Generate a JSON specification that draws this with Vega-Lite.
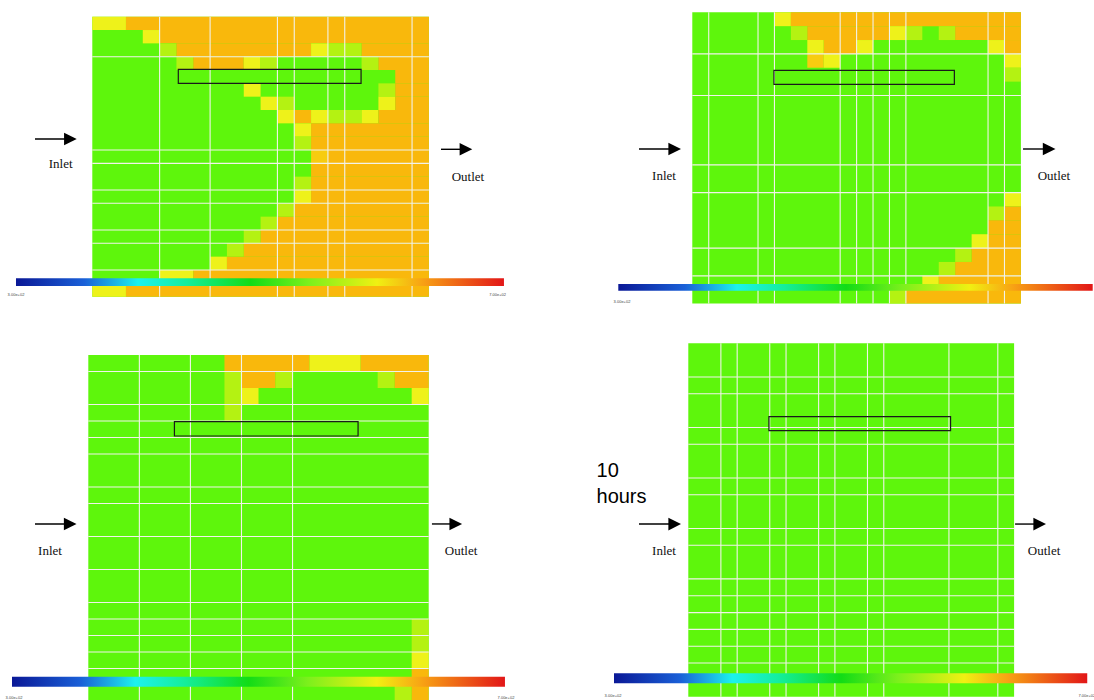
{
"$schema":"https://vega.github.io/schema/vega-lite/v6.json",
"padding":0,
"background":"white",
"config":{"view":{"stroke":null}},
"datasets":{
"cells":[
{"p":1,"r0":0,"r1":21,"c0":0,"c1":20,"v":"G"},
{"p":1,"r0":0,"r1":1,"c0":0,"c1":2,"v":"Y"},{"p":1,"r0":0,"r1":1,"c0":2,"c1":20,"v":"O"},
{"p":1,"r0":1,"r1":2,"c0":3,"c1":4,"v":"Y"},{"p":1,"r0":1,"r1":2,"c0":4,"c1":20,"v":"O"},
{"p":1,"r0":2,"r1":3,"c0":4,"c1":5,"v":"YG"},{"p":1,"r0":2,"r1":3,"c0":5,"c1":13,"v":"O"},{"p":1,"r0":2,"r1":3,"c0":13,"c1":14,"v":"Y"},{"p":1,"r0":2,"r1":3,"c0":14,"c1":16,"v":"YG"},{"p":1,"r0":2,"r1":3,"c0":16,"c1":20,"v":"O"},
{"p":1,"r0":3,"r1":4,"c0":5,"c1":6,"v":"YG"},{"p":1,"r0":3,"r1":4,"c0":6,"c1":9,"v":"O"},{"p":1,"r0":3,"r1":4,"c0":9,"c1":10,"v":"Y"},{"p":1,"r0":3,"r1":4,"c0":10,"c1":11,"v":"YG"},{"p":1,"r0":3,"r1":4,"c0":16,"c1":17,"v":"YG"},{"p":1,"r0":3,"r1":4,"c0":17,"c1":20,"v":"O"},
{"p":1,"r0":4,"r1":5,"c0":18,"c1":20,"v":"O"},
{"p":1,"r0":5,"r1":6,"c0":9,"c1":10,"v":"Y"},{"p":1,"r0":5,"r1":6,"c0":17,"c1":18,"v":"YG"},{"p":1,"r0":5,"r1":6,"c0":18,"c1":20,"v":"O"},
{"p":1,"r0":6,"r1":7,"c0":10,"c1":11,"v":"Y"},{"p":1,"r0":6,"r1":7,"c0":11,"c1":12,"v":"YG"},{"p":1,"r0":6,"r1":7,"c0":17,"c1":18,"v":"Y"},{"p":1,"r0":6,"r1":7,"c0":18,"c1":20,"v":"O"},
{"p":1,"r0":7,"r1":8,"c0":11,"c1":12,"v":"Y"},{"p":1,"r0":7,"r1":8,"c0":12,"c1":13,"v":"O"},{"p":1,"r0":7,"r1":8,"c0":13,"c1":14,"v":"Y"},{"p":1,"r0":7,"r1":8,"c0":14,"c1":16,"v":"YG"},{"p":1,"r0":7,"r1":8,"c0":16,"c1":17,"v":"Y"},{"p":1,"r0":7,"r1":8,"c0":17,"c1":20,"v":"O"},
{"p":1,"r0":8,"r1":9,"c0":12,"c1":13,"v":"Y"},{"p":1,"r0":8,"r1":9,"c0":13,"c1":20,"v":"O"},
{"p":1,"r0":9,"r1":10,"c0":12,"c1":13,"v":"YG"},{"p":1,"r0":9,"r1":10,"c0":13,"c1":20,"v":"O"},
{"p":1,"r0":10,"r1":11,"c0":13,"c1":14,"v":"LO"},{"p":1,"r0":10,"r1":11,"c0":14,"c1":20,"v":"O"},
{"p":1,"r0":11,"r1":12,"c0":13,"c1":20,"v":"O"},
{"p":1,"r0":12,"r1":13,"c0":12,"c1":13,"v":"YG"},{"p":1,"r0":12,"r1":13,"c0":13,"c1":20,"v":"O"},
{"p":1,"r0":13,"r1":14,"c0":12,"c1":13,"v":"Y"},{"p":1,"r0":13,"r1":14,"c0":13,"c1":20,"v":"O"},
{"p":1,"r0":14,"r1":15,"c0":11,"c1":12,"v":"YG"},{"p":1,"r0":14,"r1":15,"c0":12,"c1":20,"v":"O"},
{"p":1,"r0":15,"r1":16,"c0":10,"c1":11,"v":"YG"},{"p":1,"r0":15,"r1":16,"c0":11,"c1":20,"v":"O"},
{"p":1,"r0":16,"r1":17,"c0":9,"c1":10,"v":"YG"},{"p":1,"r0":16,"r1":17,"c0":10,"c1":20,"v":"O"},
{"p":1,"r0":17,"r1":18,"c0":8,"c1":9,"v":"YG"},{"p":1,"r0":17,"r1":18,"c0":9,"c1":20,"v":"O"},
{"p":1,"r0":18,"r1":19,"c0":7,"c1":8,"v":"Y"},{"p":1,"r0":18,"r1":19,"c0":8,"c1":20,"v":"O"},
{"p":1,"r0":19,"r1":20,"c0":4,"c1":6,"v":"Y"},{"p":1,"r0":19,"r1":20,"c0":6,"c1":20,"v":"O"},
{"p":1,"r0":20,"r1":21,"c0":0,"c1":2,"v":"Y"},{"p":1,"r0":20,"r1":21,"c0":2,"c1":20,"v":"O"},
{"p":2,"r0":0,"r1":21,"c0":0,"c1":20,"v":"G"},
{"p":2,"r0":0,"r1":1,"c0":5,"c1":6,"v":"Y"},{"p":2,"r0":0,"r1":1,"c0":6,"c1":20,"v":"O"},
{"p":2,"r0":1,"r1":2,"c0":6,"c1":7,"v":"YG"},{"p":2,"r0":1,"r1":2,"c0":7,"c1":12,"v":"O"},{"p":2,"r0":1,"r1":2,"c0":12,"c1":13,"v":"Y"},{"p":2,"r0":1,"r1":2,"c0":13,"c1":14,"v":"YG"},{"p":2,"r0":1,"r1":2,"c0":15,"c1":16,"v":"YG"},{"p":2,"r0":1,"r1":2,"c0":16,"c1":20,"v":"O"},
{"p":2,"r0":2,"r1":3,"c0":7,"c1":8,"v":"Y"},{"p":2,"r0":2,"r1":3,"c0":8,"c1":10,"v":"O"},{"p":2,"r0":2,"r1":3,"c0":10,"c1":11,"v":"Y"},{"p":2,"r0":2,"r1":3,"c0":18,"c1":19,"v":"Y"},{"p":2,"r0":2,"r1":3,"c0":19,"c1":20,"v":"O"},
{"p":2,"r0":3,"r1":4,"c0":7,"c1":8,"v":"LO"},{"p":2,"r0":3,"r1":4,"c0":8,"c1":9,"v":"Y"},{"p":2,"r0":3,"r1":4,"c0":19,"c1":20,"v":"Y"},
{"p":2,"r0":4,"r1":5,"c0":19,"c1":20,"v":"YG"},
{"p":2,"r0":13,"r1":14,"c0":19,"c1":20,"v":"Y"},
{"p":2,"r0":14,"r1":15,"c0":18,"c1":19,"v":"YG"},{"p":2,"r0":14,"r1":15,"c0":19,"c1":20,"v":"O"},
{"p":2,"r0":15,"r1":16,"c0":18,"c1":20,"v":"O"},
{"p":2,"r0":16,"r1":17,"c0":17,"c1":18,"v":"Y"},{"p":2,"r0":16,"r1":17,"c0":18,"c1":20,"v":"O"},
{"p":2,"r0":17,"r1":18,"c0":16,"c1":17,"v":"YG"},{"p":2,"r0":17,"r1":18,"c0":17,"c1":20,"v":"O"},
{"p":2,"r0":18,"r1":19,"c0":15,"c1":16,"v":"YG"},{"p":2,"r0":18,"r1":19,"c0":16,"c1":20,"v":"O"},
{"p":2,"r0":19,"r1":20,"c0":14,"c1":15,"v":"Y"},{"p":2,"r0":19,"r1":20,"c0":15,"c1":20,"v":"O"},
{"p":2,"r0":20,"r1":21,"c0":12,"c1":13,"v":"YG"},{"p":2,"r0":20,"r1":21,"c0":13,"c1":20,"v":"O"},
{"p":3,"r0":0,"r1":21,"c0":0,"c1":20,"v":"G"},
{"p":3,"r0":0,"r1":1,"c0":8,"c1":13,"v":"O"},{"p":3,"r0":0,"r1":1,"c0":13,"c1":16,"v":"Y"},{"p":3,"r0":0,"r1":1,"c0":16,"c1":20,"v":"O"},
{"p":3,"r0":1,"r1":2,"c0":8,"c1":9,"v":"YG"},{"p":3,"r0":1,"r1":2,"c0":9,"c1":11,"v":"O"},{"p":3,"r0":1,"r1":2,"c0":11,"c1":12,"v":"YG"},{"p":3,"r0":1,"r1":2,"c0":17,"c1":18,"v":"YG"},{"p":3,"r0":1,"r1":2,"c0":18,"c1":20,"v":"O"},
{"p":3,"r0":2,"r1":3,"c0":8,"c1":9,"v":"YG"},{"p":3,"r0":2,"r1":3,"c0":9,"c1":10,"v":"Y"},{"p":3,"r0":2,"r1":3,"c0":19,"c1":20,"v":"Y"},
{"p":3,"r0":3,"r1":4,"c0":8,"c1":9,"v":"YG"},
{"p":3,"r0":16,"r1":17,"c0":19,"c1":20,"v":"YG"},
{"p":3,"r0":17,"r1":18,"c0":19,"c1":20,"v":"YG"},
{"p":3,"r0":18,"r1":19,"c0":19,"c1":20,"v":"Y"},
{"p":3,"r0":19,"r1":20,"c0":19,"c1":20,"v":"O"},
{"p":3,"r0":20,"r1":21,"c0":18,"c1":19,"v":"YG"},{"p":3,"r0":20,"r1":21,"c0":19,"c1":20,"v":"O"},
{"p":4,"r0":0,"r1":21,"c0":0,"c1":20,"v":"G"}
],
"vl":[
{"p":1,"c":4},{"p":1,"c":7},{"p":1,"c":11},{"p":1,"c":12},{"p":1,"c":14},{"p":1,"c":15},{"p":1,"c":19},
{"p":2,"c":1},{"p":2,"c":4},{"p":2,"c":5},{"p":2,"c":9},{"p":2,"c":10},{"p":2,"c":11},{"p":2,"c":12},{"p":2,"c":13},{"p":2,"c":18},{"p":2,"c":19},
{"p":3,"c":3},{"p":3,"c":6},{"p":3,"c":9},{"p":3,"c":12},
{"p":4,"c":2},{"p":4,"c":3},{"p":4,"c":5},{"p":4,"c":6},{"p":4,"c":8},{"p":4,"c":9},{"p":4,"c":11},{"p":4,"c":12},{"p":4,"c":16},{"p":4,"c":19}
],
"hl":[
{"p":1,"r":3},{"p":1,"r":10},{"p":1,"r":11},{"p":1,"r":13},{"p":1,"r":14},{"p":1,"r":16},{"p":1,"r":17},{"p":1,"r":19},
{"p":2,"r":3},{"p":2,"r":6},{"p":2,"r":11},{"p":2,"r":13},{"p":2,"r":17},{"p":2,"r":19},
{"p":3,"r":1},{"p":3,"r":3},{"p":3,"r":4},{"p":3,"r":5},{"p":3,"r":6},{"p":3,"r":8},{"p":3,"r":9},{"p":3,"r":11},{"p":3,"r":13},{"p":3,"r":15},{"p":3,"r":16},{"p":3,"r":17},{"p":3,"r":18},{"p":3,"r":19},
{"p":4,"r":2},{"p":4,"r":3},{"p":4,"r":5},{"p":4,"r":6},{"p":4,"r":8},{"p":4,"r":9},{"p":4,"r":11},{"p":4,"r":12},{"p":4,"r":14},{"p":4,"r":15},{"p":4,"r":16},{"p":4,"r":17},{"p":4,"r":18},{"p":4,"r":19}
],
"box":[
{"p":1,"x0":5.11,"x1":15.97,"y0":3.95,"y1":5.0},
{"p":2,"x0":4.97,"x1":15.95,"y0":4.18,"y1":5.19},
{"p":3,"x0":5.06,"x1":15.85,"y0":4.04,"y1":4.91},
{"p":4,"x0":4.95,"x1":16.1,"y0":4.36,"y1":5.19}
],
"cbar":[
{"p":1,"x0":-4.534,"x1":24.46,"y0":19.625,"y1":20.203},
{"p":2,"x0":-4.504,"x1":24.37,"y0":19.59,"y1":20.07},
{"p":3,"x0":-4.483,"x1":24.48,"y0":19.5,"y1":20.1},
{"p":4,"x0":-4.561,"x1":24.49,"y0":19.61,"y1":20.2}
],
"arrows":[
{"p":1,"xs":-3.405,"xe":-1.301,"y":9.175},{"p":1,"xs":20.72,"xe":22.2,"y":9.947},
{"p":2,"xs":-3.244,"xe":-1.071,"y":9.856},{"p":2,"xs":20.13,"xe":21.72,"y":9.856},
{"p":3,"xs":-3.132,"xe":-1.063,"y":10.24},{"p":3,"xs":20.19,"xe":21.59,"y":10.24},
{"p":4,"xs":-3.026,"xe":-0.835,"y":10.74},{"p":4,"xs":20.06,"xe":21.57,"y":10.74}
],
"labels":[
{"p":1,"x":-1.878,"y":11.073,"t":"Inlet"},{"p":1,"x":22.32,"y":12.03,"t":"Outlet"},
{"p":2,"x":-1.722,"y":11.8,"t":"Inlet"},{"p":2,"x":22.01,"y":11.8,"t":"Outlet"},
{"p":3,"x":-2.25,"y":11.88,"t":"Inlet"},{"p":3,"x":21.9,"y":11.88,"t":"Outlet"},
{"p":4,"x":-1.492,"y":12.34,"t":"Inlet"},{"p":4,"x":21.84,"y":12.34,"t":"Outlet"}
],
"big":[
{"p":4,"x":-5.635,"y":7.962,"t":"10"},{"p":4,"x":-5.635,"y":9.471,"t":"hours"}
],
"cblab":[
{"p":1,"x":-4.534,"y":20.88,"t":"3.00e+02"},{"p":1,"x":24.08,"y":20.88,"t":"7.00e+02"},
{"p":2,"x":-4.279,"y":20.89,"t":"3.00e+02"},
{"p":3,"x":-4.366,"y":20.79,"t":"3.00e+02"},{"p":3,"x":24.54,"y":20.79,"t":"7.00e+02"},
{"p":4,"x":-4.622,"y":20.96,"t":"3.00e+02"},{"p":4,"x":24.47,"y":20.96,"t":"7.00e+02"}
]
},
"spacing":0,
"vconcat":[
{"spacing":0,"hconcat":[
{"width":560,"height":320,"layer":[
{"data":{"name":"cells"},"transform":[{"filter":"datum.p==1"}],"mark":{"type":"rect","clip":true},
 "encoding":{"x":{"field":"c0","type":"quantitative","scale":{"domain":[-5.484,27.79],"nice":false,"zero":false},"axis":null},"x2":{"field":"c1"},
 "y":{"field":"r0","type":"quantitative","scale":{"domain":[-1.253,22.753],"nice":false,"zero":false,"reverse":true},"axis":null},"y2":{"field":"r1"},
 "color":{"field":"v","type":"nominal","scale":{"domain":["G","YG","Y","LO","O"],"range":["#5ef60c","#b4f212","#eef21a","#f7cc10","#f9b80c"]},"legend":null}}},
{"data":{"name":"vl"},"transform":[{"filter":"datum.p==1"}],"mark":{"type":"rule","clip":true,"color":"#f2f2ea","strokeWidth":1.1},
 "encoding":{"x":{"field":"c","type":"quantitative","scale":{"domain":[-5.484,27.79],"nice":false,"zero":false},"axis":null},
 "y":{"datum":0,"type":"quantitative","scale":{"domain":[-1.253,22.753],"nice":false,"zero":false,"reverse":true},"axis":null},"y2":{"datum":21}}},
{"data":{"name":"hl"},"transform":[{"filter":"datum.p==1"}],"mark":{"type":"rule","clip":true,"color":"#f2f2ea","strokeWidth":1.1},
 "encoding":{"y":{"field":"r","type":"quantitative","scale":{"domain":[-1.253,22.753],"nice":false,"zero":false,"reverse":true},"axis":null},
 "x":{"datum":0,"type":"quantitative","scale":{"domain":[-5.484,27.79],"nice":false,"zero":false},"axis":null},"x2":{"datum":20}}},
{"data":{"name":"box"},"transform":[{"filter":"datum.p==1"}],"mark":{"type":"rect","fillOpacity":0,"stroke":"#1a1a1a","strokeWidth":1.2,"clip":true},
 "encoding":{"x":{"field":"x0","type":"quantitative","scale":{"domain":[-5.484,27.79],"nice":false,"zero":false},"axis":null},"x2":{"field":"x1"},
 "y":{"field":"y0","type":"quantitative","scale":{"domain":[-1.253,22.753],"nice":false,"zero":false,"reverse":true},"axis":null},"y2":{"field":"y1"}}},
{"data":{"name":"cbar"},"transform":[{"filter":"datum.p==1"}],"mark":{"type":"rect","clip":true,"fill":{"gradient":"linear","x1":0,"y1":0,"x2":1,"y2":0,"stops":[{"offset":0,"color":"#0a1896"},{"offset":0.14,"color":"#1a60d8"},{"offset":0.25,"color":"#1cf2ee"},{"offset":0.35,"color":"#14ee9c"},{"offset":0.48,"color":"#12dc16"},{"offset":0.6,"color":"#7cf01c"},{"offset":0.74,"color":"#f0f012"},{"offset":0.83,"color":"#f8a414"},{"offset":1,"color":"#e21618"}]}},
 "encoding":{"x":{"field":"x0","type":"quantitative","scale":{"domain":[-5.484,27.79],"nice":false,"zero":false},"axis":null},"x2":{"field":"x1"},
 "y":{"field":"y0","type":"quantitative","scale":{"domain":[-1.253,22.753],"nice":false,"zero":false,"reverse":true},"axis":null},"y2":{"field":"y1"}}},
{"data":{"name":"arrows"},"transform":[{"filter":"datum.p==1"}],"mark":{"type":"rule","color":"#000","strokeWidth":1.4,"clip":true},
 "encoding":{"x":{"field":"xs","type":"quantitative","scale":{"domain":[-5.484,27.79],"nice":false,"zero":false},"axis":null},"x2":{"field":"xe"},
 "y":{"field":"y","type":"quantitative","scale":{"domain":[-1.253,22.753],"nice":false,"zero":false,"reverse":true},"axis":null}}},
{"data":{"name":"arrows"},"transform":[{"filter":"datum.p==1"}],"mark":{"type":"point","shape":"M-1,-1L1,0L-1,1Z","filled":true,"size":160,"color":"#000","opacity":1,"clip":true},
 "encoding":{"x":{"field":"xe","type":"quantitative","scale":{"domain":[-5.484,27.79],"nice":false,"zero":false},"axis":null},
 "y":{"field":"y","type":"quantitative","scale":{"domain":[-1.253,22.753],"nice":false,"zero":false,"reverse":true},"axis":null}}},
{"data":{"name":"labels"},"transform":[{"filter":"datum.p==1"}],"mark":{"type":"text","font":"Liberation Serif","fontSize":13,"color":"#111","baseline":"middle","align":"center"},
 "encoding":{"x":{"field":"x","type":"quantitative","scale":{"domain":[-5.484,27.79],"nice":false,"zero":false},"axis":null},
 "y":{"field":"y","type":"quantitative","scale":{"domain":[-1.253,22.753],"nice":false,"zero":false,"reverse":true},"axis":null},"text":{"field":"t"}}},
{"data":{"name":"cblab"},"transform":[{"filter":"datum.p==1"}],"mark":{"type":"text","font":"Liberation Sans","fontSize":4,"color":"#444","baseline":"middle","align":"center"},
 "encoding":{"x":{"field":"x","type":"quantitative","scale":{"domain":[-5.484,27.79],"nice":false,"zero":false},"axis":null},
 "y":{"field":"y","type":"quantitative","scale":{"domain":[-1.253,22.753],"nice":false,"zero":false,"reverse":true},"axis":null},"text":{"field":"t"}}}
]},
{"width":534,"height":320,"layer":[
{"data":{"name":"cells"},"transform":[{"filter":"datum.p==2"}],"mark":{"type":"rect","clip":true},
 "encoding":{"x":{"field":"c0","type":"quantitative","scale":{"domain":[-8.052,24.449],"nice":false,"zero":false},"axis":null},"x2":{"field":"c1"},
 "y":{"field":"r0","type":"quantitative","scale":{"domain":[-0.887,22.185],"nice":false,"zero":false,"reverse":true},"axis":null},"y2":{"field":"r1"},
 "color":{"field":"v","type":"nominal","scale":{"domain":["G","YG","Y","LO","O"],"range":["#5ef60c","#b4f212","#eef21a","#f7cc10","#f9b80c"]},"legend":null}}},
{"data":{"name":"vl"},"transform":[{"filter":"datum.p==2"}],"mark":{"type":"rule","clip":true,"color":"#f2f2ea","strokeWidth":1.1},
 "encoding":{"x":{"field":"c","type":"quantitative","scale":{"domain":[-8.052,24.449],"nice":false,"zero":false},"axis":null},
 "y":{"datum":0,"type":"quantitative","scale":{"domain":[-0.887,22.185],"nice":false,"zero":false,"reverse":true},"axis":null},"y2":{"datum":21}}},
{"data":{"name":"hl"},"transform":[{"filter":"datum.p==2"}],"mark":{"type":"rule","clip":true,"color":"#f2f2ea","strokeWidth":1.1},
 "encoding":{"y":{"field":"r","type":"quantitative","scale":{"domain":[-0.887,22.185],"nice":false,"zero":false,"reverse":true},"axis":null},
 "x":{"datum":0,"type":"quantitative","scale":{"domain":[-8.052,24.449],"nice":false,"zero":false},"axis":null},"x2":{"datum":20}}},
{"data":{"name":"box"},"transform":[{"filter":"datum.p==2"}],"mark":{"type":"rect","fillOpacity":0,"stroke":"#1a1a1a","strokeWidth":1.2,"clip":true},
 "encoding":{"x":{"field":"x0","type":"quantitative","scale":{"domain":[-8.052,24.449],"nice":false,"zero":false},"axis":null},"x2":{"field":"x1"},
 "y":{"field":"y0","type":"quantitative","scale":{"domain":[-0.887,22.185],"nice":false,"zero":false,"reverse":true},"axis":null},"y2":{"field":"y1"}}},
{"data":{"name":"cbar"},"transform":[{"filter":"datum.p==2"}],"mark":{"type":"rect","clip":true,"fill":{"gradient":"linear","x1":0,"y1":0,"x2":1,"y2":0,"stops":[{"offset":0,"color":"#0a1896"},{"offset":0.14,"color":"#1a60d8"},{"offset":0.25,"color":"#1cf2ee"},{"offset":0.35,"color":"#14ee9c"},{"offset":0.48,"color":"#12dc16"},{"offset":0.6,"color":"#7cf01c"},{"offset":0.74,"color":"#f0f012"},{"offset":0.83,"color":"#f8a414"},{"offset":1,"color":"#e21618"}]}},
 "encoding":{"x":{"field":"x0","type":"quantitative","scale":{"domain":[-8.052,24.449],"nice":false,"zero":false},"axis":null},"x2":{"field":"x1"},
 "y":{"field":"y0","type":"quantitative","scale":{"domain":[-0.887,22.185],"nice":false,"zero":false,"reverse":true},"axis":null},"y2":{"field":"y1"}}},
{"data":{"name":"arrows"},"transform":[{"filter":"datum.p==2"}],"mark":{"type":"rule","color":"#000","strokeWidth":1.4,"clip":true},
 "encoding":{"x":{"field":"xs","type":"quantitative","scale":{"domain":[-8.052,24.449],"nice":false,"zero":false},"axis":null},"x2":{"field":"xe"},
 "y":{"field":"y","type":"quantitative","scale":{"domain":[-0.887,22.185],"nice":false,"zero":false,"reverse":true},"axis":null}}},
{"data":{"name":"arrows"},"transform":[{"filter":"datum.p==2"}],"mark":{"type":"point","shape":"M-1,-1L1,0L-1,1Z","filled":true,"size":160,"color":"#000","opacity":1,"clip":true},
 "encoding":{"x":{"field":"xe","type":"quantitative","scale":{"domain":[-8.052,24.449],"nice":false,"zero":false},"axis":null},
 "y":{"field":"y","type":"quantitative","scale":{"domain":[-0.887,22.185],"nice":false,"zero":false,"reverse":true},"axis":null}}},
{"data":{"name":"labels"},"transform":[{"filter":"datum.p==2"}],"mark":{"type":"text","font":"Liberation Serif","fontSize":13,"color":"#111","baseline":"middle","align":"center"},
 "encoding":{"x":{"field":"x","type":"quantitative","scale":{"domain":[-8.052,24.449],"nice":false,"zero":false},"axis":null},
 "y":{"field":"y","type":"quantitative","scale":{"domain":[-0.887,22.185],"nice":false,"zero":false,"reverse":true},"axis":null},"text":{"field":"t"}}},
{"data":{"name":"cblab"},"transform":[{"filter":"datum.p==2"}],"mark":{"type":"text","font":"Liberation Sans","fontSize":4,"color":"#444","baseline":"middle","align":"center"},
 "encoding":{"x":{"field":"x","type":"quantitative","scale":{"domain":[-8.052,24.449],"nice":false,"zero":false},"axis":null},
 "y":{"field":"y","type":"quantitative","scale":{"domain":[-0.887,22.185],"nice":false,"zero":false,"reverse":true},"axis":null},"text":{"field":"t"}}}
]}
]},
{"spacing":0,"hconcat":[
{"width":560,"height":380,"layer":[
{"data":{"name":"cells"},"transform":[{"filter":"datum.p==3"}],"mark":{"type":"rect","clip":true},
 "encoding":{"x":{"field":"c0","type":"quantitative","scale":{"domain":[-5.188,27.714],"nice":false,"zero":false},"axis":null},"x2":{"field":"c1"},
 "y":{"field":"r0","type":"quantitative","scale":{"domain":[-2.121,20.909],"nice":false,"zero":false,"reverse":true},"axis":null},"y2":{"field":"r1"},
 "color":{"field":"v","type":"nominal","scale":{"domain":["G","YG","Y","LO","O"],"range":["#5ef60c","#b4f212","#eef21a","#f7cc10","#f9b80c"]},"legend":null}}},
{"data":{"name":"vl"},"transform":[{"filter":"datum.p==3"}],"mark":{"type":"rule","clip":true,"color":"#f2f2ea","strokeWidth":1.1},
 "encoding":{"x":{"field":"c","type":"quantitative","scale":{"domain":[-5.188,27.714],"nice":false,"zero":false},"axis":null},
 "y":{"datum":0,"type":"quantitative","scale":{"domain":[-2.121,20.909],"nice":false,"zero":false,"reverse":true},"axis":null},"y2":{"datum":21}}},
{"data":{"name":"hl"},"transform":[{"filter":"datum.p==3"}],"mark":{"type":"rule","clip":true,"color":"#f2f2ea","strokeWidth":1.1},
 "encoding":{"y":{"field":"r","type":"quantitative","scale":{"domain":[-2.121,20.909],"nice":false,"zero":false,"reverse":true},"axis":null},
 "x":{"datum":0,"type":"quantitative","scale":{"domain":[-5.188,27.714],"nice":false,"zero":false},"axis":null},"x2":{"datum":20}}},
{"data":{"name":"box"},"transform":[{"filter":"datum.p==3"}],"mark":{"type":"rect","fillOpacity":0,"stroke":"#1a1a1a","strokeWidth":1.2,"clip":true},
 "encoding":{"x":{"field":"x0","type":"quantitative","scale":{"domain":[-5.188,27.714],"nice":false,"zero":false},"axis":null},"x2":{"field":"x1"},
 "y":{"field":"y0","type":"quantitative","scale":{"domain":[-2.121,20.909],"nice":false,"zero":false,"reverse":true},"axis":null},"y2":{"field":"y1"}}},
{"data":{"name":"cbar"},"transform":[{"filter":"datum.p==3"}],"mark":{"type":"rect","clip":true,"fill":{"gradient":"linear","x1":0,"y1":0,"x2":1,"y2":0,"stops":[{"offset":0,"color":"#0a1896"},{"offset":0.14,"color":"#1a60d8"},{"offset":0.25,"color":"#1cf2ee"},{"offset":0.35,"color":"#14ee9c"},{"offset":0.48,"color":"#12dc16"},{"offset":0.6,"color":"#7cf01c"},{"offset":0.74,"color":"#f0f012"},{"offset":0.83,"color":"#f8a414"},{"offset":1,"color":"#e21618"}]}},
 "encoding":{"x":{"field":"x0","type":"quantitative","scale":{"domain":[-5.188,27.714],"nice":false,"zero":false},"axis":null},"x2":{"field":"x1"},
 "y":{"field":"y0","type":"quantitative","scale":{"domain":[-2.121,20.909],"nice":false,"zero":false,"reverse":true},"axis":null},"y2":{"field":"y1"}}},
{"data":{"name":"arrows"},"transform":[{"filter":"datum.p==3"}],"mark":{"type":"rule","color":"#000","strokeWidth":1.4,"clip":true},
 "encoding":{"x":{"field":"xs","type":"quantitative","scale":{"domain":[-5.188,27.714],"nice":false,"zero":false},"axis":null},"x2":{"field":"xe"},
 "y":{"field":"y","type":"quantitative","scale":{"domain":[-2.121,20.909],"nice":false,"zero":false,"reverse":true},"axis":null}}},
{"data":{"name":"arrows"},"transform":[{"filter":"datum.p==3"}],"mark":{"type":"point","shape":"M-1,-1L1,0L-1,1Z","filled":true,"size":160,"color":"#000","opacity":1,"clip":true},
 "encoding":{"x":{"field":"xe","type":"quantitative","scale":{"domain":[-5.188,27.714],"nice":false,"zero":false},"axis":null},
 "y":{"field":"y","type":"quantitative","scale":{"domain":[-2.121,20.909],"nice":false,"zero":false,"reverse":true},"axis":null}}},
{"data":{"name":"labels"},"transform":[{"filter":"datum.p==3"}],"mark":{"type":"text","font":"Liberation Serif","fontSize":13,"color":"#111","baseline":"middle","align":"center"},
 "encoding":{"x":{"field":"x","type":"quantitative","scale":{"domain":[-5.188,27.714],"nice":false,"zero":false},"axis":null},
 "y":{"field":"y","type":"quantitative","scale":{"domain":[-2.121,20.909],"nice":false,"zero":false,"reverse":true},"axis":null},"text":{"field":"t"}}},
{"data":{"name":"cblab"},"transform":[{"filter":"datum.p==3"}],"mark":{"type":"text","font":"Liberation Sans","fontSize":4,"color":"#444","baseline":"middle","align":"center"},
 "encoding":{"x":{"field":"x","type":"quantitative","scale":{"domain":[-5.188,27.714],"nice":false,"zero":false},"axis":null},
 "y":{"field":"y","type":"quantitative","scale":{"domain":[-2.121,20.909],"nice":false,"zero":false,"reverse":true},"axis":null},"text":{"field":"t"}}}
]},
{"width":534,"height":380,"layer":[
{"data":{"name":"cells"},"transform":[{"filter":"datum.p==4"}],"mark":{"type":"rect","clip":true},
 "encoding":{"x":{"field":"c0","type":"quantitative","scale":{"domain":[-7.876,24.905],"nice":false,"zero":false},"axis":null},"x2":{"field":"c1"},
 "y":{"field":"r0","type":"quantitative","scale":{"domain":[-1.384,21.194],"nice":false,"zero":false,"reverse":true},"axis":null},"y2":{"field":"r1"},
 "color":{"field":"v","type":"nominal","scale":{"domain":["G","YG","Y","LO","O"],"range":["#5ef60c","#b4f212","#eef21a","#f7cc10","#f9b80c"]},"legend":null}}},
{"data":{"name":"vl"},"transform":[{"filter":"datum.p==4"}],"mark":{"type":"rule","clip":true,"color":"#f2f2ea","strokeWidth":1.1},
 "encoding":{"x":{"field":"c","type":"quantitative","scale":{"domain":[-7.876,24.905],"nice":false,"zero":false},"axis":null},
 "y":{"datum":0,"type":"quantitative","scale":{"domain":[-1.384,21.194],"nice":false,"zero":false,"reverse":true},"axis":null},"y2":{"datum":21}}},
{"data":{"name":"hl"},"transform":[{"filter":"datum.p==4"}],"mark":{"type":"rule","clip":true,"color":"#f2f2ea","strokeWidth":1.1},
 "encoding":{"y":{"field":"r","type":"quantitative","scale":{"domain":[-1.384,21.194],"nice":false,"zero":false,"reverse":true},"axis":null},
 "x":{"datum":0,"type":"quantitative","scale":{"domain":[-7.876,24.905],"nice":false,"zero":false},"axis":null},"x2":{"datum":20}}},
{"data":{"name":"box"},"transform":[{"filter":"datum.p==4"}],"mark":{"type":"rect","fillOpacity":0,"stroke":"#1a1a1a","strokeWidth":1.2,"clip":true},
 "encoding":{"x":{"field":"x0","type":"quantitative","scale":{"domain":[-7.876,24.905],"nice":false,"zero":false},"axis":null},"x2":{"field":"x1"},
 "y":{"field":"y0","type":"quantitative","scale":{"domain":[-1.384,21.194],"nice":false,"zero":false,"reverse":true},"axis":null},"y2":{"field":"y1"}}},
{"data":{"name":"cbar"},"transform":[{"filter":"datum.p==4"}],"mark":{"type":"rect","clip":true,"fill":{"gradient":"linear","x1":0,"y1":0,"x2":1,"y2":0,"stops":[{"offset":0,"color":"#0a1896"},{"offset":0.14,"color":"#1a60d8"},{"offset":0.25,"color":"#1cf2ee"},{"offset":0.35,"color":"#14ee9c"},{"offset":0.48,"color":"#12dc16"},{"offset":0.6,"color":"#7cf01c"},{"offset":0.74,"color":"#f0f012"},{"offset":0.83,"color":"#f8a414"},{"offset":1,"color":"#e21618"}]}},
 "encoding":{"x":{"field":"x0","type":"quantitative","scale":{"domain":[-7.876,24.905],"nice":false,"zero":false},"axis":null},"x2":{"field":"x1"},
 "y":{"field":"y0","type":"quantitative","scale":{"domain":[-1.384,21.194],"nice":false,"zero":false,"reverse":true},"axis":null},"y2":{"field":"y1"}}},
{"data":{"name":"arrows"},"transform":[{"filter":"datum.p==4"}],"mark":{"type":"rule","color":"#000","strokeWidth":1.4,"clip":true},
 "encoding":{"x":{"field":"xs","type":"quantitative","scale":{"domain":[-7.876,24.905],"nice":false,"zero":false},"axis":null},"x2":{"field":"xe"},
 "y":{"field":"y","type":"quantitative","scale":{"domain":[-1.384,21.194],"nice":false,"zero":false,"reverse":true},"axis":null}}},
{"data":{"name":"arrows"},"transform":[{"filter":"datum.p==4"}],"mark":{"type":"point","shape":"M-1,-1L1,0L-1,1Z","filled":true,"size":160,"color":"#000","opacity":1,"clip":true},
 "encoding":{"x":{"field":"xe","type":"quantitative","scale":{"domain":[-7.876,24.905],"nice":false,"zero":false},"axis":null},
 "y":{"field":"y","type":"quantitative","scale":{"domain":[-1.384,21.194],"nice":false,"zero":false,"reverse":true},"axis":null}}},
{"data":{"name":"labels"},"transform":[{"filter":"datum.p==4"}],"mark":{"type":"text","font":"Liberation Serif","fontSize":13,"color":"#111","baseline":"middle","align":"center"},
 "encoding":{"x":{"field":"x","type":"quantitative","scale":{"domain":[-7.876,24.905],"nice":false,"zero":false},"axis":null},
 "y":{"field":"y","type":"quantitative","scale":{"domain":[-1.384,21.194],"nice":false,"zero":false,"reverse":true},"axis":null},"text":{"field":"t"}}},
{"data":{"name":"big"},"transform":[{"filter":"datum.p==4"}],"mark":{"type":"text","font":"Liberation Sans","fontSize":20,"color":"#000","baseline":"alphabetic","align":"left"},
 "encoding":{"x":{"field":"x","type":"quantitative","scale":{"domain":[-7.876,24.905],"nice":false,"zero":false},"axis":null},
 "y":{"field":"y","type":"quantitative","scale":{"domain":[-1.384,21.194],"nice":false,"zero":false,"reverse":true},"axis":null},"text":{"field":"t"}}},
{"data":{"name":"cblab"},"transform":[{"filter":"datum.p==4"}],"mark":{"type":"text","font":"Liberation Sans","fontSize":4,"color":"#444","baseline":"middle","align":"center"},
 "encoding":{"x":{"field":"x","type":"quantitative","scale":{"domain":[-7.876,24.905],"nice":false,"zero":false},"axis":null},
 "y":{"field":"y","type":"quantitative","scale":{"domain":[-1.384,21.194],"nice":false,"zero":false,"reverse":true},"axis":null},"text":{"field":"t"}}}
]}
]}
]
}
